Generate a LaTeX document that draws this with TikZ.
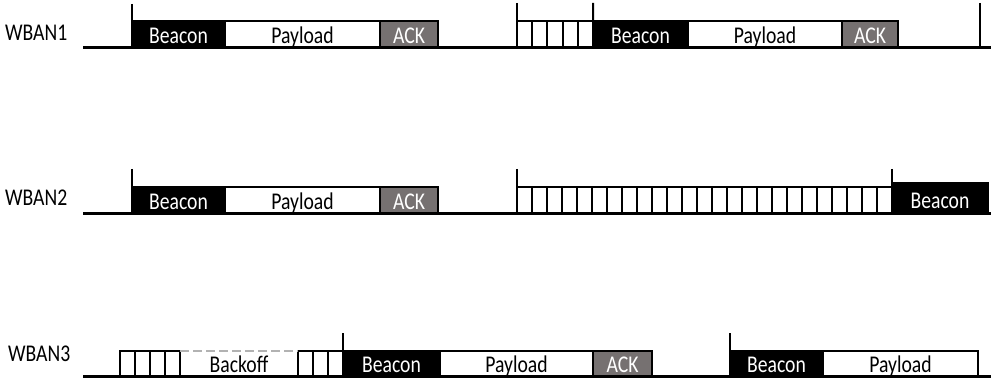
\documentclass[tikz,border=0pt]{standalone}
\usepackage{fontspec}
\setmainfont{Carlito}
\newfontfamily\narrowfont[FakeStretch=0.82]{Carlito}
\definecolor{ackgray}{HTML}{767171}
\begin{document}
\begin{tikzpicture}[x=1pt,y=-1pt,
  seg/.style={draw=black, line width=2pt, inner sep=0pt, outer sep=0pt,
    anchor=north west, text height=17.5pt, text depth=0pt,
    font=\narrowfont\fontsize{24}{24}\selectfont},
  beaconbox/.style={seg, fill=black, text=white},
  payloadbox/.style={seg, fill=white, text=black},
  ackbox/.style={seg, fill=ackgray, text=white},
  slotbox/.style={seg, fill=white, minimum width=#1},
  tickline/.style={line width=2pt},
  axisline/.style={line width=3pt},
  rowlabel/.style={anchor=west, inner sep=0pt, font=\narrowfont\fontsize{24}{24}\selectfont}
]
\useasboundingbox (0,0) rectangle (992,382);

% ---------------- WBAN1 ----------------
\node[rowlabel] (lab1) at (5,33) {WBAN1};
\begin{scope}[every node/.append style={minimum height=27pt}]
  \node[beaconbox, minimum width=93pt] (r1beaconA) at (132,21) {Beacon};
  \node[payloadbox, minimum width=155pt] (r1payA) at (r1beaconA.north east) {Payload};
  \node[ackbox, minimum width=58pt] (r1ackA) at (r1payA.north east) {ACK};
  \foreach \i in {0,...,4}
    \node[slotbox=15.2pt] (r1slot\i) at ({517+15.2*\i},21) {};
  \node[beaconbox, minimum width=95pt] (r1beaconB) at (r1slot4.north east) {Beacon};
  \node[payloadbox, minimum width=154pt] (r1payB) at (r1beaconB.north east) {Payload};
  \node[ackbox, minimum width=56pt] (r1ackB) at (r1payB.north east) {ACK};
\end{scope}
\coordinate (r1tickA) at (132,4);
\coordinate (r1tickB) at (517,3);
\coordinate (r1tickC) at (593,3);
\coordinate (r1tickD) at (980,3);
\coordinate (r1tickDbase) at (980,48);
\draw[tickline] (r1tickA) -- (r1beaconA.south west);
\draw[tickline] (r1tickB) -- (r1slot0.south west);
\draw[tickline] (r1tickC) -- (r1beaconB.south west);
\draw[tickline] (r1tickD) -- (r1tickDbase);
\coordinate (r1start) at (83,48);
\coordinate (r1end) at (991,48);
\draw[axisline] (r1start) -- (r1end);

% ---------------- WBAN2 ----------------
\node[rowlabel] (lab2) at (5,198) {WBAN2};
\begin{scope}[every node/.append style={minimum height=26.5pt}]
  \node[beaconbox, minimum width=93pt] (r2beaconA) at (132,187) {Beacon};
  \node[payloadbox, minimum width=155pt] (r2payA) at (r2beaconA.north east) {Payload};
  \node[ackbox, minimum width=58pt] (r2ackA) at (r2payA.north east) {ACK};
  \foreach \i in {0,...,24}
    \node[slotbox=15pt] (r2slot\i) at ({517+15*\i},187) {};
\end{scope}
\node[beaconbox, minimum width=96pt, minimum height=30.5pt, text height=19.5pt]
  (r2beaconB) at (892,183) {Beacon};
\coordinate (r2tickA) at (132,169);
\coordinate (r2tickB) at (517,169);
\coordinate (r2tickC) at (892,169);
\draw[tickline] (r2tickA) -- (r2beaconA.south west);
\draw[tickline] (r2tickB) -- (r2slot0.south west);
\draw[tickline] (r2tickC) -- (r2beaconB.south west);
\coordinate (r2start) at (83,213.5);
\coordinate (r2end) at (991,213.5);
\draw[axisline] (r2start) -- (r2end);

% ---------------- WBAN3 ----------------
\node[rowlabel] (lab3) at (8,354) {WBAN3};
\begin{scope}[every node/.append style={minimum height=25.5pt}]
  \foreach \i in {0,...,3}
    \node[slotbox=15pt] (r3slotL\i) at ({120+15*\i},351) {};
  \node[seg, draw=none, minimum width=118pt] (r3backoff) at (r3slotL3.north east) {Backoff};
  \foreach \i in {0,...,2}
    \node[slotbox=15pt] (r3slotR\i) at ({298+15*\i},351) {};
  \node[beaconbox, minimum width=97pt] (r3beaconA) at (r3slotR2.north east) {Beacon};
  \node[payloadbox, minimum width=153pt] (r3payA) at (r3beaconA.north east) {Payload};
  \node[ackbox, minimum width=59pt] (r3ackA) at (r3payA.north east) {ACK};
  \node[beaconbox, minimum width=93pt] (r3beaconB) at (730,351) {Beacon};
  \node[payloadbox, minimum width=155pt] (r3payB) at (r3beaconB.north east) {Payload};
\end{scope}
\draw[line width=1.4pt, gray!60, dash pattern=on 9pt off 4pt]
  (r3backoff.north west) -- (r3backoff.north east);
\coordinate (r3tickA) at (343,333);
\coordinate (r3tickB) at (730,333);
\draw[tickline] (r3tickA) -- (r3beaconA.south west);
\draw[tickline] (r3tickB) -- (r3beaconB.south west);
\coordinate (r3start) at (83,376.5);
\coordinate (r3end) at (991,376.5);
\draw[axisline] (r3start) -- (r3end);
\end{tikzpicture}
\end{document}
